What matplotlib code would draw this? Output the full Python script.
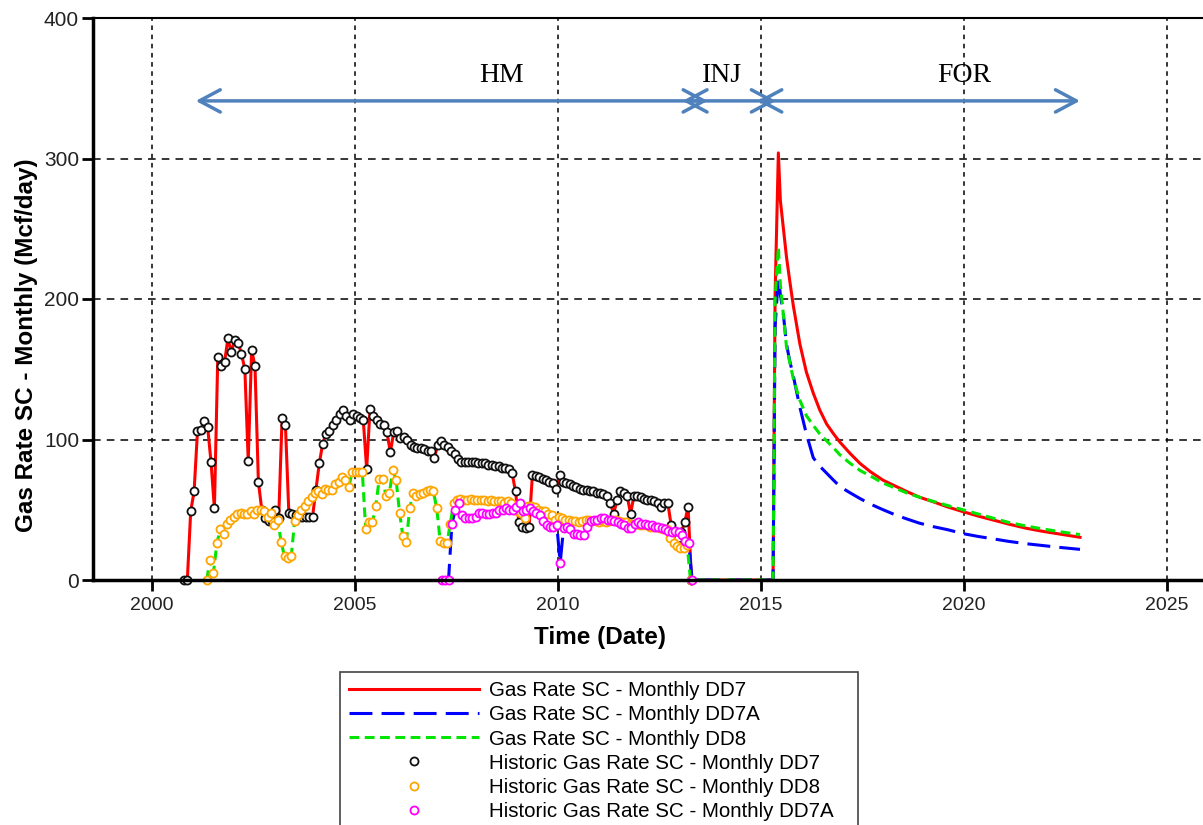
import numpy as np
import matplotlib.pyplot as plt

# monthly historic rates (Mcf/day), first month given by the start date
dd7_start = 2000.79
dd7_hist = [0, 0, 49, 63, 106, 107, 113, 109, 84, 51,
            159, 152, 155, 172, 162, 171, 169, 161, 150, 85,
            164, 152, 70, 50, 44, 42, 42, 50, 44, 115,
            110, 48, 47, 46, 45, 45, 45, 45, 45, 64,
            83, 97, 104, 106, 110, 114, 118, 121, 117, 114,
            118, 117, 115, 114, 79, 122, 117, 114, 111, 110,
            105, 91, 105, 106, 101, 102, 100, 96, 95, 94,
            94, 93, 92, 92, 87, 96, 99, 96, 95, 92,
            90, 86, 84, 84, 84, 84, 84, 83, 83, 83,
            82, 82, 81, 81, 80, 80, 79, 76, 63, 41,
            38, 37, 38, 75, 74, 73, 72, 71, 70, 69,
            65, 75, 70, 69, 68, 67, 66, 65, 64, 64,
            63, 63, 62, 62, 61, 60, 55, 47, 57, 63,
            62, 60, 47, 60, 60, 59, 58, 57, 57, 56,
            55, 52, 55, 55, 39, 32, 30, 34, 41, 52,
            0]

dd8_start = 2001.35
dd8_hist = [0, 14, 5, 26, 36, 33, 40, 43, 45, 47,
            48, 47, 47, 49, 47, 50, 50, 49, 45, 48,
            39, 43, 27, 17, 16, 17, 42, 46, 50, 53,
            56, 59, 62, 63, 61, 65, 64, 64, 68, 70,
            73, 71, 66, 77, 77, 77, 77, 36, 41, 41,
            53, 72, 72, 60, 62, 78, 71, 48, 31, 27,
            51, 62, 60, 61, 62, 63, 64, 63, 51, 28,
            26, 26, 40, 55, 57, 58, 57, 57, 58, 57,
            57, 57, 57, 56, 57, 56, 56, 56, 55, 56,
            55, 50, 49, 48, 44, 53, 53, 52, 50, 49,
            49, 47, 46, 43, 45, 44, 43, 43, 42, 42,
            41, 42, 43, 43, 42, 42, 41, 42, 41, 42,
            43, 43, 42, 41, 41, 40, 40, 40, 39, 39,
            39, 38, 38, 38, 37, 36, 36, 30, 26, 24,
            23, 23, 25, 0]

dd7a_start = 2007.14
dd7a_hist = [0, 0, 0, 40, 50, 55, 46, 44, 44, 44,
             45, 48, 48, 47, 47, 48, 48, 50, 50, 51,
             50, 50, 52, 55, 49, 50, 51, 49, 48, 46,
             42, 39, 38, 38, 39, 12, 37, 38, 36, 33,
             33, 32, 32, 38, 42, 43, 43, 44, 44, 43,
             43, 42, 41, 40, 39, 37, 37, 40, 41, 40,
             40, 39, 39, 38, 38, 37, 36, 35, 34, 35,
             34, 32, 28, 26, 0]

# forecast after injection
for_t = [2015.30, 2015.35, 2015.43, 2015.48, 2015.55, 2015.63, 2015.71, 2015.80,
         2015.96, 2016.12, 2016.29, 2016.45, 2016.62, 2016.79, 2016.95, 2017.20,
         2017.44, 2017.70, 2018.01, 2018.30, 2018.59, 2018.90, 2019.24, 2019.60,
         2019.98, 2020.35, 2020.72, 2021.10, 2021.54, 2021.95, 2022.36, 2022.86]
dd7_for = [0, 203, 304, 270, 251, 230, 213, 195, 168, 148, 133, 121, 111, 104, 98, 90,
           83, 77, 71, 67, 63, 59, 55.7, 52, 48.6, 45.5, 42.7, 39.8, 36.8, 34.6, 32.7, 30.4]
dd7a_for = [0, 180, 216, 203, 190, 168, 156, 145, 123, 104, 87, 81, 76, 71, 66.4, 62,
            58, 54, 50, 46.5, 43.5, 40.5, 38, 35.8, 33, 31, 29.3, 27.5, 25.8, 24.5, 23.2, 21.8]
dd8_for = [0, 200, 237, 210, 190, 166, 155, 143, 128, 117, 110, 104, 99, 94, 89, 83,
           78, 74, 69, 65.5, 62, 59, 56, 53, 50, 47, 44, 41, 38.4, 36.3, 34.4, 32.3]

periods = ['HM', 'INJ', 'FOR']
period_span = [(2001.08, 2013.69), (2013.07, 2015.37), (2014.91, 2022.86)]
period_text_x = [2008.62, 2014.04, 2020.02]

plt.rcParams['font.family'] = ['Liberation Sans', 'DejaVu Sans']

def monthly(start, vals):
    return start + np.arange(len(vals)) / 12.

dd7_t = monthly(dd7_start, dd7_hist)
dd8_t = monthly(dd8_start, dd8_hist)
dd7a_t = monthly(dd7a_start, dd7a_hist)

fig = plt.figure(figsize=(12.03, 8.25), dpi=100)
ax = fig.add_axes([93/1203., 245/825., 1114.5/1203., 562/825.])

ax.plot(np.concatenate([dd7_t, for_t]), dd7_hist + dd7_for, color='#FF0000', lw=2.2,
        label='Gas Rate SC - Monthly DD7')
ax.plot(np.concatenate([dd7a_t, for_t]), dd7a_hist + dd7a_for, color='#0000FF', lw=2.2,
        ls=(0, (7.5, 3)), label='Gas Rate SC - Monthly DD7A')
ax.plot(np.concatenate([dd8_t, for_t]), dd8_hist + dd8_for, color='#00E600', lw=2.2,
        ls=(0, (3.2, 1.8)), label='Gas Rate SC - Monthly DD8')

mk = dict(ls='none', marker='o', ms=5.8, mfc='white', mew=1.3, clip_on=False)
ax.plot(dd7_t, dd7_hist, mec='#111111', label='Historic Gas Rate SC - Monthly DD7', **mk)
ax.plot(dd8_t, dd8_hist, mec='#FFA500', label='Historic Gas Rate SC - Monthly DD8', **mk)
ax.plot(dd7a_t, dd7a_hist, mec='#FF00FF', label='Historic Gas Rate SC - Monthly DD7A', **mk)

# history match / injection / forecast periods
for name, (x0, x1), tx in zip(periods, period_span, period_text_x):
    ax.annotate('', xy=(x1, 341), xytext=(x0, 341),
                arrowprops=dict(arrowstyle='<->,head_length=0.75,head_width=0.4',
                                color='#4F81BD', lw=2.5, shrinkA=0, shrinkB=0,
                                mutation_scale=20))
    ax.text(tx, 359, name, ha='center', va='center', fontsize=20,
            family=['Liberation Serif', 'DejaVu Serif'])

ax.set_xlim(1998.55, 2026.0)
ax.set_ylim(0, 400)
ax.set_xticks([2000, 2005, 2010, 2015, 2020, 2025])
ax.set_yticks([0, 100, 200, 300, 400])
ax.xaxis.grid(True, color='black', lw=1.1, ls=(0, (3, 3)))
ax.yaxis.grid(True, color='black', lw=1.1, ls=(0, (5, 4)))
ax.set_axisbelow(True)
ax.tick_params(axis='both', direction='out', length=8, width=2, labelsize=14,
               labelcolor='#222222')
ax.tick_params(axis='x', pad=4)
ax.tick_params(axis='y', pad=2, labelsize=15)
for s in ['left', 'bottom']:
    ax.spines[s].set_linewidth(2.5)
ax.spines['top'].set_linewidth(1.5)

ax.set_xlabel('Time (Date)', fontsize=17.5, fontweight='bold')
ax.set_ylabel('Gas Rate SC - Monthly (Mcf/day)', fontsize=17.5, fontweight='bold')
ax.xaxis.set_label_coords(0.455, -0.082)
ax.yaxis.set_label_coords(-0.049, 0.418)

leg = fig.legend(loc='upper left', bbox_to_anchor=(340/1203., 0.0, 518/1203., 153/825.),
                 mode='expand', borderaxespad=0, fontsize=14.8, handlelength=6.3,
                 handletextpad=0.5, labelspacing=0.25, borderpad=0.45, fancybox=False,
                 framealpha=1, edgecolor='#444444')
leg.get_frame().set_linewidth(1.2)

fig.savefig('out.png', dpi=100)
